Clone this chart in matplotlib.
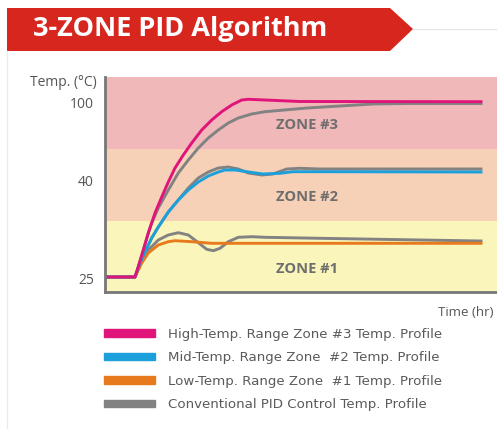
import numpy as np
import matplotlib
matplotlib.use("Agg")
import matplotlib.pyplot as plt
from matplotlib.patches import Polygon, Patch

plt.rcParams['font.family'] = ['Open Sans', 'DejaVu Sans']

# vertical scale is a display level (not linear in temperature)
tick_pos = [14, 111, 189]
tick_labels = ['25', '40', '100']
zone_edges = [0, 71, 143, 215]
zone_names = ['ZONE #1', 'ZONE #2', 'ZONE #3']
zone_colors = ['#FAF5BA', '#F6D1B8', '#F0B8B8']

# temperature profiles
hi_x = [0, 30, 33.3, 38.3, 43.3, 50, 56.7, 63.3, 70, 78.3, 86.7, 96.7, 106.7,
        116.7, 126.7, 136.7, 143.3, 160, 195, 376]
hi_y = [15, 15, 25.3, 42, 59, 79, 95, 110, 124, 137, 149, 162, 172,
        180.3, 187, 192, 192.7, 192, 190.5, 190.3]
hi_pid_x = [0, 30, 33.3, 38.3, 43.3, 46.7, 53.3, 63.3, 73.3, 83.3, 93.3, 103.3,
            113.3, 123.3, 133.3, 146.7, 160, 202, 235, 268, 302, 376]
hi_pid_y = [15, 15, 25.3, 42, 59, 69, 84, 102, 119, 132, 144, 154,
            162, 169, 174, 178, 180.3, 184, 186, 188, 188.5, 188.5]

mid_x = [0, 30, 35, 40, 46.7, 53.3, 63.3, 73.3, 83.3, 93.3, 103.3, 113.3, 120,
         130, 141.7, 158, 175, 188, 215, 376]
mid_y = [15, 15, 29, 40, 54, 65, 80, 92, 102, 110, 116, 120, 122,
         122, 120.3, 118, 118.7, 120.3, 120.3, 120]
mid_pid_x = [0, 30, 35, 40, 46.7, 53.3, 63.3, 73.3, 83.3, 93.3, 103.3, 113.3,
             123.3, 133.3, 143.3, 156.7, 168, 181.7, 195, 215, 376]
mid_pid_y = [15, 15, 29, 40, 54, 65, 80, 92, 104, 114, 120, 124,
             125, 123, 119, 117, 118, 123, 123.7, 123, 123]

lo_x = [0, 30, 36.7, 43.3, 53.3, 63.3, 70, 86.7, 106.7, 376]
lo_y = [15, 15, 29, 39, 47, 50.3, 51.3, 50.3, 48.7, 48.7]
lo_pid_x = [0, 30, 35, 43.3, 53.3, 63.3, 73.3, 83.3, 93.3, 101.7, 108.3, 115,
            123.3, 133.3, 146.7, 160, 215, 376]
lo_pid_y = [15, 15, 29, 42, 52, 57, 59.3, 57, 49.3, 42.7, 41.3, 43.7,
            50.3, 54.7, 55.3, 54.7, 53.7, 51]

legend_labels = ['High-Temp. Range Zone #3 Temp. Profile',
                 'Mid-Temp. Range Zone  #2 Temp. Profile',
                 'Low-Temp. Range Zone  #1 Temp. Profile',
                 'Conventional PID Control Temp. Profile']
c_hi, c_mid, c_lo, c_pid = '#E0147A', '#1BA0DB', '#E87A1E', '#828282'

W, H = 497, 429
fig = plt.figure(figsize=(W / 100, H / 100), dpi=100)

# decorations in pixel coords
deco = fig.add_axes([0, 0, 1, 1])
deco.set_xlim(0, W)
deco.set_ylim(H, 0)
deco.axis('off')
deco.plot([7, 7], [51, H], color='#EBEBEB', lw=1)
deco.plot([413, W], [29, 29], color='#E6E6E6', lw=1)
deco.add_patch(Polygon([(7, 8), (390, 8), (413, 29), (390, 51), (7, 51)],
                       closed=True, color='#D7261E', lw=0))
deco.text(33, 29, '3-ZONE PID Algorithm', color='white', fontsize=19.5,
          fontweight='bold', va='center', ha='left')

ax = fig.add_axes([105 / W, (H - 292) / H, (W - 105) / W, 215 / H])
ax.set_xlim(0, 392)
ax.set_ylim(0, 215)
for i in range(3):
    ax.axhspan(zone_edges[i], zone_edges[i + 1], color=zone_colors[i], lw=0, zorder=0)
zone_label_y = [23, 95, 167]
for name, yy in zip(zone_names, zone_label_y):
    ax.text(202, yy, name, color='#6E6E6E', fontsize=10.5, fontweight='bold',
            ha='center', va='center')

lw = 2.1
ax.plot(hi_pid_x, hi_pid_y, color=c_pid, lw=lw, solid_joinstyle='round')
ax.plot(mid_pid_x, mid_pid_y, color=c_pid, lw=lw, solid_joinstyle='round')
ax.plot(lo_pid_x, lo_pid_y, color=c_pid, lw=lw, solid_joinstyle='round')
ax.plot(lo_x, lo_y, color=c_lo, lw=lw, solid_joinstyle='round')
ax.plot(mid_x, mid_y, color=c_mid, lw=lw, solid_joinstyle='round')
ax.plot(hi_x, hi_y, color=c_hi, lw=lw, solid_joinstyle='round')

for s in ['top', 'right']:
    ax.spines[s].set_visible(False)
for s in ['left', 'bottom']:
    ax.spines[s].set_color('#777777')
    ax.spines[s].set_linewidth(2)
ax.set_xticks([])
ax.set_yticks(tick_pos)
ax.set_yticklabels(tick_labels)
ax.tick_params(axis='y', length=0, pad=8, labelsize=10, labelcolor='#555555')

deco.text(97, 83, 'Temp. (\u00b0C)', color='#555555', fontsize=10, ha='right', va='center')
deco.text(493, 312, 'Time (hr)', color='#555555', fontsize=9.5, ha='right', va='center')

handles = [Patch(color=c) for c in [c_hi, c_mid, c_lo, c_pid]]
leg = fig.legend(handles, legend_labels, loc='upper left',
                 bbox_to_anchor=(92 / W, 1 - 316 / H), frameon=False,
                 prop={'family': 'DejaVu Sans', 'size': 9.6},
                 handlelength=3.8, handleheight=0.5,
                 handletextpad=1.0, labelspacing=0.78)
for t in leg.get_texts():
    t.set_color('#5A5A5A')

fig.savefig('out.png', dpi=100)
